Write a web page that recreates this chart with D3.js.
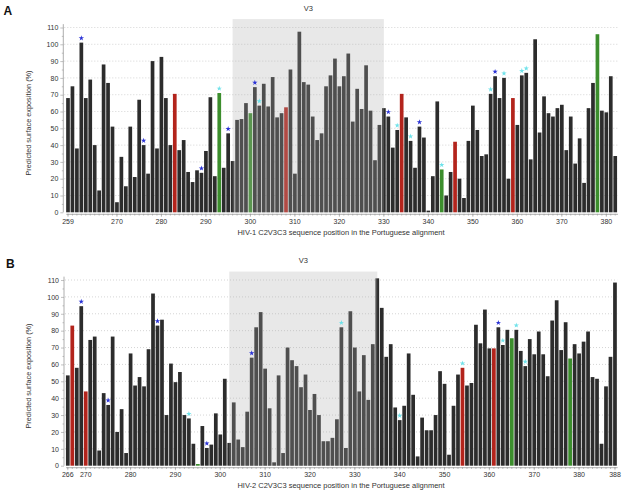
<!DOCTYPE html>
<html><head><meta charset="utf-8">
<script src="https://cdn.jsdelivr.net/npm/d3@7"></script>
<style>body{margin:0;background:#fff}svg{display:block;font-family:"Liberation Sans",Arial,Helvetica,sans-serif}</style>
</head><body><svg id="c" width="625" height="494"></svg>
<script>
// ---- Panel A data (HIV-1), positions 259..382 ----
const startA = 259;
const valuesA = [68,75,38,101,68,79,40,13,88,77,51,6,33,15.5,51,21,67,40,23,90,38,92.5,68,40,70.5,37,43,24,18,25,
  23.5,36.5,68.5,21.5,71,26.5,47,30.5,55,55.5,65,59,74.5,63.5,76.5,63,80.5,56.5,59,62.5,85,23,107.5,77.5,76,57,43,47,75,81.5,91.5,
  75,81,94.5,54,73.5,61.5,87.5,60.5,31,52,62,57,38.5,49,70.5,56.5,42.5,26.5,51,44.5,1,21.5,66,25.5,10,24,42,20,8.5,42.5,63.5,49,
  33.5,34.5,70.5,81,68,80,20,68,52,81.5,83,31.5,103,47.5,69,59,57,62,64,37,57,29,44,17.5,62,77,106,60.5,59.5,81,33.5];
const redA = [283,308,334,346,359];
const greenA = [293,300,343,378];
const blueStarA = [262,276,289,295,301,331,338,355];
const cyanStarA = [293,302,333,336,343,354,357,361,362];
const shadeA = [296,330];
const ticksA = [259,270,280,290,300,310,320,330,340,350,360,370,380];

// ---- Panel B data (HIV-2), positions 266..388 ----
const startB = 266;
const valuesB = [53.5,83,58,94.5,44,74.5,76.5,9,43,36,76.5,20,33.5,7.5,66.5,47.5,52.5,47,69,102,83,86.5,30,60.5,49.5,55.5,30,28,13,1,
  23.5,10.5,12.5,31,18.5,51.5,13.5,37.5,15.5,11,32,64,82,91,57.5,34,2,53.5,7.5,70,62.5,59,46.5,54,33,42.5,30,14.5,14.5,16.5,27.5,
  82,10.5,91.5,70,44,65.5,39,72,111,93.5,64.5,72,34.5,27,35.5,66.5,42,5.5,28.5,21,21,30,56,48.5,6.5,35.5,54,58,47.5,49,83.5,72.5,
  92.5,69.5,69.5,82,71.5,80.5,75.5,80.5,68,59,75,66,79.5,66,53,86,98,68.5,85,63.5,72,66.5,73.5,79.5,52.5,51.5,13,47,64.5,108.5];
const redB = [267,270,354,361];
const greenB = [295,365,378];
const blueStarB = [269,275,286,297,307,362];
const cyanStarB = [293,327,340,354,363,366,368];
const shadeB = [302,335];
const ticksB = [266,270,280,290,300,310,320,330,340,350,360,370,380,388];

const yTicks = d3.range(0, 111, 10);
const svg = d3.select('#c');

function drawPanel(o) {
  const n = o.values.length;
  const positions = o.values.map((_, i) => o.start + i);
  const x = d3.scaleBand().domain(positions)
    .range([o.c0 - o.step / 2, o.c0 + (n - 1) * o.step + o.step / 2])
    .paddingInner(0.17).paddingOuter(0.085);
  const y = d3.scaleLinear().domain([0, 115]).range([o.y0, o.y0 - 115 * o.px10 / 10]);
  const cx = p => x(p) + x.bandwidth() / 2;
  const g = svg.append('g');

  // grid
  g.selectAll('line.grid').data(yTicks.slice(1)).join('line')
    .attr('x1', o.axisX + 1).attr('x2', x.range()[1])
    .attr('y1', d => y(d)).attr('y2', d => y(d))
    .attr('stroke', '#b8b8b8').attr('stroke-width', 0.6).attr('stroke-dasharray', '1,2');

  // bars
  g.selectAll('rect.bar').data(positions).join('rect')
    .attr('x', p => x(p)).attr('width', x.bandwidth())
    .attr('y', (p, i) => y(o.values[i]))
    .attr('height', (p, i) => y(0) - y(o.values[i]))
    .attr('fill', p => o.red.includes(p) ? '#b3241c' : (o.green.includes(p) ? '#3c8e2d' : '#2c2c2c'));

  // V3 shaded region (overlay)
  g.append('rect')
    .attr('x', cx(o.shade[0])).attr('width', cx(o.shade[1]) - cx(o.shade[0]))
    .attr('y', y(115)).attr('height', y(0) - y(115))
    .attr('fill', 'rgb(172,172,172)').attr('fill-opacity', 0.28);
  g.append('text').attr('x', (cx(o.shade[0]) + cx(o.shade[1])) / 2).attr('y', y(115) - 8.5)
    .attr('text-anchor', 'middle').attr('font-size', 7.5).attr('fill', '#333').text('V3');

  // stars
  const star = d3.symbol().type(d3.symbolStar).size(9);
  const idx = p => p - o.start;
  g.selectAll('path.bs').data(o.blueStars).join('path')
    .attr('d', star).attr('fill', '#2b33d6')
    .attr('transform', p => `translate(${cx(p)},${y(o.values[idx(p)]) - 4.5})`);
  g.selectAll('path.cs').data(o.cyanStars).join('path')
    .attr('d', star).attr('fill', '#6fe2ea')
    .attr('transform', p => `translate(${cx(p)},${y(o.values[idx(p)]) - 4.5})`);

  // x axis
  const xa = g.append('g').attr('transform', `translate(0,${o.y0 + 1.5})`)
    .call(d3.axisBottom(x).tickValues(o.ticks).tickSize(3).tickSizeOuter(0).tickPadding(2));
  const xm = g.append('g').attr('transform', `translate(0,${o.y0 + 1.5})`)
    .call(d3.axisBottom(x).tickValues(positions).tickSize(1.8).tickSizeOuter(0).tickFormat(''));
  xm.select('.domain').remove();
  // y axis
  const ya = g.append('g').attr('transform', `translate(${o.axisX},0)`)
    .call(d3.axisLeft(y).tickValues(yTicks).tickSize(3).tickSizeOuter(0).tickPadding(2));
  ya.select('.domain').remove();
  g.append('line').attr('x1', o.axisX).attr('x2', o.axisX).attr('y1', y(0)).attr('y2', y(112))
    .attr('stroke', '#999').attr('stroke-width', 0.8);
  const ym = g.append('g').attr('transform', `translate(${o.axisX},0)`)
    .call(d3.axisLeft(y).tickValues(d3.range(5, 111, 10)).tickSize(1.5).tickFormat(''));
  ym.select('.domain').remove();

  [xa, xm, ya, ym].forEach(a => {
    a.selectAll('.domain').attr('stroke', '#999').attr('stroke-width', 0.8);
    a.selectAll('.tick line').attr('stroke', '#999').attr('stroke-width', 0.6);
    a.selectAll('.tick text').attr('font-size', 7).attr('fill', '#333')
      .attr('font-family', '"Liberation Sans",Arial,sans-serif');
  });

  // titles
  svg.append('text').attr('x', o.letterX).attr('y', o.letterY).attr('font-size', 12)
    .attr('font-weight', 'bold').attr('fill', '#111').text(o.letter);
  svg.append('text').attr('transform', `translate(30.5,${o.yTitleY}) rotate(-90)`)
    .attr('text-anchor', 'middle').attr('font-size', 7.3).attr('fill', '#333')
    .text('Predicted surface exposition (%)');
  svg.append('text').attr('x', 341).attr('y', o.xTitleY).attr('text-anchor', 'middle')
    .attr('font-size', 7.5).attr('fill', '#333').text(o.xTitle);
}

drawPanel({start: startA, values: valuesA, red: redA, green: greenA, blueStars: blueStarA, cyanStars: cyanStarA,
  shade: shadeA, ticks: ticksA, c0: 68, step: 4.449, y0: 212.3, px10: 16.8, axisX: 63.3,
  letter: 'A', letterX: 3.5, letterY: 15, yTitleY: 123, xTitleY: 235,
  xTitle: 'HIV-1 C2V3C3 sequence position in the Portuguese alignment'});
drawPanel({start: startB, values: valuesB, red: redB, green: greenB, blueStars: blueStarB, cyanStars: cyanStarB,
  shade: shadeB, ticks: ticksB, c0: 67.8, step: 4.485, y0: 465.7, px10: 16.88, axisX: 64,
  letter: 'B', letterX: 6, letterY: 267.5, yTitleY: 376, xTitleY: 487.5,
  xTitle: 'HIV-2 C2V3C3 sequence position in the Portuguese alignment'});
</script></body></html>
